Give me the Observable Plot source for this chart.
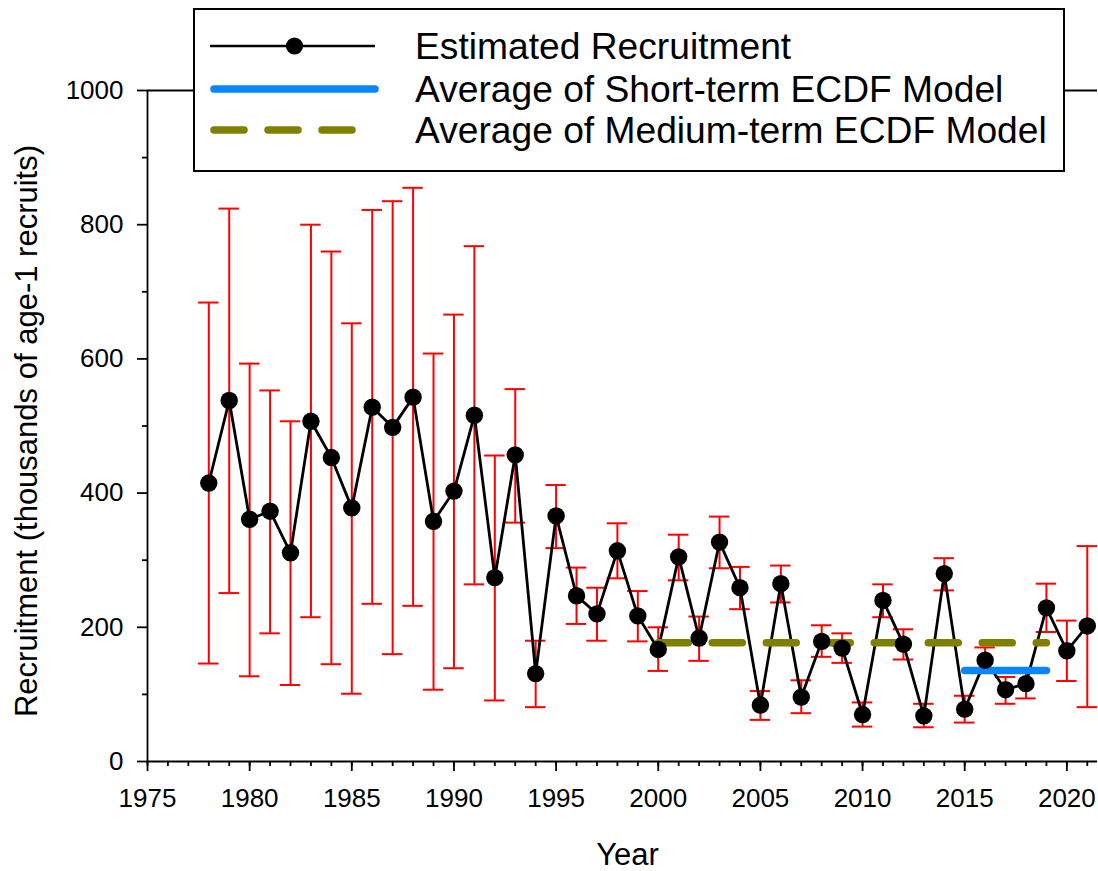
<!DOCTYPE html>
<html>
<head>
<meta charset="utf-8">
<script src="https://cdn.jsdelivr.net/npm/d3@7"></script>
<script src="https://cdn.jsdelivr.net/npm/@observablehq/plot@0.6"></script>
<style>
  html, body { margin: 0; padding: 0; background: #fff; }
  #chart { position: relative; width: 1098px; height: 871px; font-family: "Liberation Sans", Arial, sans-serif; }
  #legend { position: absolute; left: 193px; top: 8px; width: 868px; height: 160px; border: 2px solid #000; background: #fff; }
</style>
</head>
<body>
<div id="chart"></div>
<script>
const years = d3.range(1978, 2022);
const recruitment = [415, 538, 361, 373, 311, 507, 453, 378, 528, 498, 543, 358, 403, 516, 274,
  457, 131, 366, 247, 220, 314, 217, 167, 305, 184, 327, 259, 84, 265, 96,
  179, 169, 70, 240, 175, 68, 280, 78, 151, 107, 116, 229, 165, 202];
const upper = [684, 824, 593, 553, 507, 800, 760, 653, 822, 835, 855, 608, 666, 768, 456,
  555, 180, 412, 289, 259, 355, 254, 200, 338, 216, 365, 290, 105, 292, 121,
  203, 191, 88, 264, 197, 86, 303, 98, 170, 126, 136, 265, 210, 321];
const lower = [146, 251, 127, 191, 114, 215, 145, 101, 235, 160, 232, 107, 139, 264, 91,
  356, 81, 318, 205, 180, 273, 179, 135, 270, 150, 288, 227, 62, 237, 72,
  156, 147, 52, 215, 152, 51, 255, 58, 133, 86, 94, 193, 120, 81];
const shortYears = [2015, 2019];
const shortAvg = 135.5;
const mediumYears = [2000, 2019];
const mediumAvg = 177;
const xMajorTicks = d3.range(1975, 2021, 5);
const xMinorTicks = d3.range(1975, 2022, 1);
const yMajorTicks = d3.range(0, 1001, 200);
const yMinorTicks = d3.range(100, 1000, 200);
const legendLabels = ["Estimated Recruitment", "Average of Short-term ECDF Model", "Average of Medium-term ECDF Model"];

const data = years.map((year, i) => ({year, value: recruitment[i], hi: upper[i], lo: lower[i]}));
const shortLine = shortYears.map(year => ({year, value: shortAvg}));
const mediumLine = mediumYears.map(year => ({year, value: mediumAvg}));

const plot = Plot.plot({
  width: 1098,
  height: 871,
  marginLeft: 147,
  marginRight: 1,
  marginTop: 90,
  marginBottom: 110,
  style: {fontFamily: '"Liberation Sans", Arial, sans-serif', color: "#000", background: "#fff"},
  x: {domain: [1975, 2021.5]},
  y: {domain: [0, 1000]},
  marks: [
    Plot.axisX({ticks: xMinorTicks, tickSize: 5, tickFormat: () => "", strokeWidth: 1.8, label: null}),
    Plot.axisX({ticks: xMajorTicks, tickSize: 10, tickPadding: 17, tickFormat: d => String(d), fontSize: 26, strokeWidth: 1.8, label: null}),
    Plot.axisY({ticks: yMinorTicks, tickSize: 5, tickFormat: () => "", strokeWidth: 1.8, label: null}),
    Plot.axisY({ticks: yMajorTicks, tickSize: 10, tickPadding: 14, tickFormat: d => String(d), fontSize: 26, strokeWidth: 1.8, label: null}),
    Plot.ruleY([1000], {stroke: "#000", strokeWidth: 1.8}),
    Plot.ruleX(data, {x: "year", y1: "lo", y2: "hi", stroke: "#ff0000", strokeWidth: 2}),
    Plot.ruleY(data, {y: "hi", x1: d => d.year - 0.5, x2: d => d.year + 0.5, stroke: "#ff0000", strokeWidth: 2}),
    Plot.ruleY(data, {y: "lo", x1: d => d.year - 0.5, x2: d => d.year + 0.5, stroke: "#ff0000", strokeWidth: 2}),
    Plot.line(data, {x: "year", y: "value", stroke: "#000", strokeWidth: 2.8}),
    Plot.line(mediumLine, {x: "year", y: "value", stroke: "#808000", strokeWidth: 7.5, strokeLinecap: "round", strokeDasharray: "30 24"}),
    Plot.line(shortLine, {x: "year", y: "value", stroke: "#0a84ff", strokeWidth: 7.5, strokeLinecap: "round"}),
    Plot.dot(data, {x: "year", y: "value", r: 8.7, fill: "#000", stroke: "none"}),
    Plot.ruleX([1975], {stroke: "#000", strokeWidth: 1.8}),
    Plot.ruleY([0], {stroke: "#000", strokeWidth: 1.8}),
    Plot.text(["Year"], {frameAnchor: "bottom", dx: 5, dy: 94, fontSize: 31, lineAnchor: "middle", fill: "#000"}),
    Plot.text(["Recruitment (thousands of age-1 recruits)"], {frameAnchor: "left", dx: -120, dy: 5, rotate: -90, fontSize: 31, textAnchor: "middle", lineAnchor: "middle", fill: "#000"})
  ]
});

const chart = document.getElementById("chart");
chart.appendChild(plot);

// Legend overlay
const legend = document.createElement("div");
legend.id = "legend";
const svg = d3.select(legend).append("svg").attr("width", 868).attr("height", 160)
  .style("font-family", '"Liberation Sans", Arial, sans-serif');
const rowY = [36, 79, 120];
const sx0 = 15, sx1 = 180;
svg.append("line").attr("x1", sx0).attr("x2", sx1).attr("y1", rowY[0]).attr("y2", rowY[0]).attr("stroke", "#000").attr("stroke-width", 2.6);
svg.append("circle").attr("cx", (sx0 + sx1) / 2 + 2).attr("cy", rowY[0]).attr("r", 8.6).attr("fill", "#000");
svg.append("line").attr("x1", sx0 + 4).attr("x2", sx1).attr("y1", rowY[1]).attr("y2", rowY[1]).attr("stroke", "#0a84ff").attr("stroke-width", 7.5).attr("stroke-linecap", "round");
svg.append("line").attr("x1", sx0 + 4).attr("x2", sx1).attr("y1", rowY[2]).attr("y2", rowY[2]).attr("stroke", "#808000").attr("stroke-width", 7.5).attr("stroke-linecap", "round").attr("stroke-dasharray", "30 24");
legendLabels.forEach((t, i) => {
  svg.append("text").attr("x", 220).attr("y", rowY[i]).attr("dy", "0.35em").attr("font-size", 37.2).attr("fill", "#000").text(t);
});
chart.appendChild(legend);
</script>
</body>
</html>
